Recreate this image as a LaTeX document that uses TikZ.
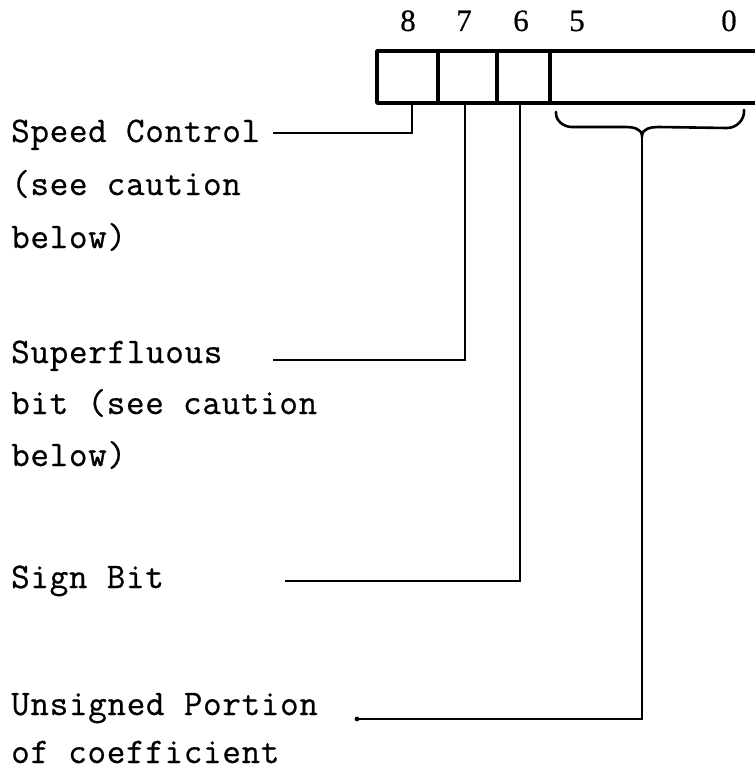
\documentclass[tikz,border=0pt]{standalone}
\usepackage{fontspec}
\newfontfamily\twfont[LetterSpace=2,FakeBold=0.6]{Latin Modern Mono}
\newfontfamily\numserif[FakeBold=0.5]{Liberation Serif}
\begin{document}
\begin{tikzpicture}[x=1pt,y=-1pt,
  lbl/.style={anchor=base west, inner sep=0pt, font=\twfont\fontsize{36}{40}\selectfont},
  bitnum/.style={anchor=base, inner sep=0pt, font=\numserif\fontsize{31}{31}\selectfont},
  boxline/.style={line width=3.8pt, line cap=round, line join=round},
  conn/.style={line width=2.6pt, line join=miter}]
\useasboundingbox (0,0) rectangle (754,770);
% bit numbers
\node[bitnum] (n8) at (408,31) {8};
\node[bitnum] (n7) at (464,31) {7};
\node[bitnum] (n6) at (521,31) {6};
\node[bitnum] (n5) at (577,31) {5};
\node[bitnum] (n0) at (729,31) {0};
% register box
\coordinate (tl) at (377,51);
\coordinate (bl) at (377,103);
\coordinate (tr) at (756,51);
\coordinate (br) at (756,103);
\draw[boxline] (tr) -- (tl) -- (bl) -- (br);
\foreach \xx in {438,497,550} \draw[boxline] (\xx,51) -- (\xx,103);
% bottom tap points
\coordinate (p8) at (412,103);
\coordinate (p7) at (465,103);
\coordinate (p6) at (520,103);
% brace
\coordinate (bt) at (642,136);
\draw[line width=2.6pt, line cap=round] (556,112) to[out=-95,in=180] (572,127) -- (626,127)
   to[out=0,in=90] (bt) to[out=90,in=180] (658,127) -- (727,128) to[out=0,in=-85] (744,110);
% labels
\node[lbl] (sc1) at (11,142) {Speed Control};
\node[lbl] (sc2) at (11,195) {(see caution};
\node[lbl] (sc3) at (11,248) {below)};
\node[lbl] (sf1) at (11,363) {Superfluous};
\node[lbl] (sf2) at (11,414) {bit (see caution};
\node[lbl] (sf3) at (11,466) {below)};
\node[lbl] (sb1) at (11,588) {Sign Bit};
\node[lbl] (up1) at (11,715) {Unsigned Portion};
\node[lbl] (up2) at (11,763) {of coefficient};
% connector free ends
\coordinate (e8) at (273,133);
\coordinate (e7) at (273,360);
\coordinate (e6) at (285,581);
\coordinate (e0) at (357,719);
\draw[conn] (p8) |- (e8);
\draw[conn] (p7) |- (e7);
\draw[conn] (p6) |- (e6);
\draw[conn] (bt) |- (e0);
\fill (e0) circle (2.4pt);
\end{tikzpicture}
\end{document}
